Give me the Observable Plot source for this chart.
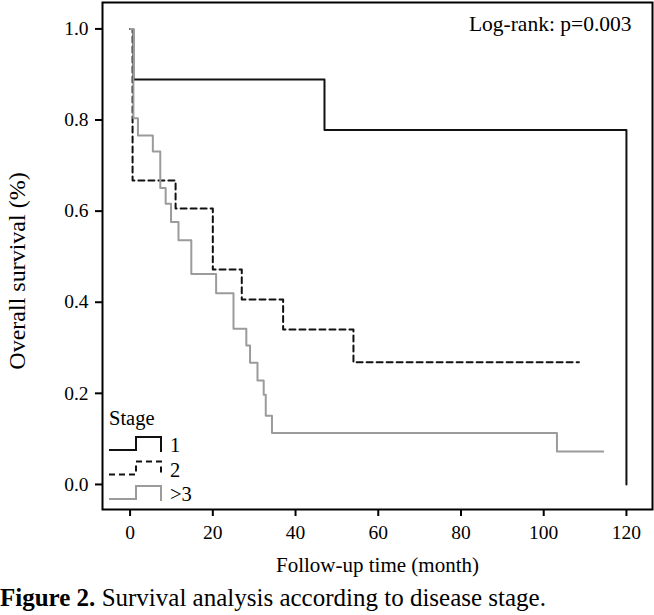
<!DOCTYPE html>
<html>
<head>
<meta charset="utf-8">
<script src="https://cdn.jsdelivr.net/npm/d3@7"></script>
<script src="https://cdn.jsdelivr.net/npm/@observablehq/plot@0.6"></script>
<style>
  html, body { margin: 0; padding: 0; background: #fff; }
  #chart { position: relative; width: 654px; }
  #caption { font-family: "Liberation Serif", "Times New Roman", serif; font-size: 25px; line-height: 30px; margin: 0 0 0 0; color: #000; white-space: nowrap; }
</style>
</head>
<body>
<div id="chart"></div>
<div id="caption"><b>Figure 2.</b> Survival analysis according to disease stage.</div>
<script>
// ---- data ----
const stageNames = ["1", "2", ">3"];
const stage1Time = [0, 0.8, 47, 120];
const stage1Surv = [1, 0.889, 0.778, 0];
const stage2Time = [0, 0.6, 11, 20, 27, 37, 54, 108.5];
const stage2Surv = [1, 0.667, 0.606, 0.472, 0.406, 0.34, 0.268, 0.268];
const stage3Time = [0, 0.8, 1.9, 5.5, 7.3, 8.6, 9.9, 11.7, 14.8, 20.8, 25, 28.1, 29, 30.8, 32.3, 32.8, 34.3, 103.2, 114.4];
const stage3Surv = [1, 0.804, 0.766, 0.731, 0.651, 0.616, 0.576, 0.536, 0.462, 0.42, 0.342, 0.305, 0.267, 0.228, 0.197, 0.151, 0.113, 0.0725, 0.0725];
const xTicks = [0, 20, 40, 60, 80, 100, 120];
const yTicks = [0, 0.2, 0.4, 0.6, 0.8, 1.0];
const xLabel = "Follow-up time (month)";
const yLabel = "Overall survival (%)";
const pText = "Log-rank: p=0.003";
const legendTitle = "Stage";

// ---- styles ----
const styles = [
  {stroke: "#111", dash: null},
  {stroke: "#111", dash: "6,4"},
  {stroke: "#9b9b9b", dash: null}
];
const toRows = (name, t, s) => t.map((v, i) => ({stage: name, time: v, surv: s[i]}));
const series = [
  toRows(stageNames[0], stage1Time, stage1Surv),
  toRows(stageNames[1], stage2Time, stage2Surv),
  toRows(stageNames[2], stage3Time, stage3Surv)
];

const font = "Liberation Serif";
const plot = Plot.plot({
  width: 654,
  height: 583,
  marginLeft: 102,
  marginRight: 2,
  marginTop: 2,
  marginBottom: 74,
  x: {domain: [-6.67, 126.3]},
  y: {domain: [-0.055, 1.058]},
  style: {fontFamily: font, fontSize: "19.5px", color: "#000", background: "#fff"},
  marks: [
    Plot.axisX({ticks: xTicks, tickSize: 7, tickPadding: 9, strokeWidth: 2, tickFormat: d => String(d), label: null}),
    Plot.axisY({ticks: yTicks, tickSize: 7, tickPadding: 7, strokeWidth: 2, tickFormat: d3.format(".1f"), label: null}),
    ...series.map((rows, i) => Plot.line(rows, {
      x: "time", y: "surv", curve: "step-after",
      stroke: styles[i].stroke, strokeWidth: 2,
      strokeDasharray: styles[i].dash
    })),
    Plot.frame({stroke: "#000", strokeWidth: 2}),
    Plot.text([pText], {frameAnchor: "top-right", dx: -21, dy: 22, lineAnchor: "middle", textAnchor: "end", fontSize: 21.5, fill: "#000"}),
    Plot.text([xLabel], {frameAnchor: "bottom", dy: 56, lineAnchor: "middle", textAnchor: "middle", fontSize: 21, fill: "#000"}),
    Plot.text([yLabel], {frameAnchor: "left", dx: -85, dy: 15, rotate: -90, lineAnchor: "middle", textAnchor: "middle", fontSize: 24, fill: "#000"})
  ]
});
document.getElementById("chart").appendChild(plot);

// ---- legend (inside plot, bottom-left) ----
const svg = d3.select(plot);
const lg = svg.append("g")
  .style("font-family", font)
  .style("font-size", "20.5px")
  .attr("text-anchor", "start")
  .style("text-anchor", "start");
lg.append("text").attr("x", 109).attr("y", 425).attr("fill", "#000").text(legendTitle);
stageNames.forEach((name, i) => {
  const yLow = 450 + i * 24.5, yHigh = yLow - 13;
  lg.append("path")
    .attr("d", `M109,${yLow}H136V${yHigh}H161V${yLow + 2}`)
    .attr("fill", "none")
    .attr("stroke", styles[i].stroke)
    .attr("stroke-width", 2)
    .attr("stroke-dasharray", styles[i].dash);
  lg.append("text").attr("x", 170).attr("y", yLow + 2).attr("fill", "#000").text(name);
});
</script>
</body>
</html>
